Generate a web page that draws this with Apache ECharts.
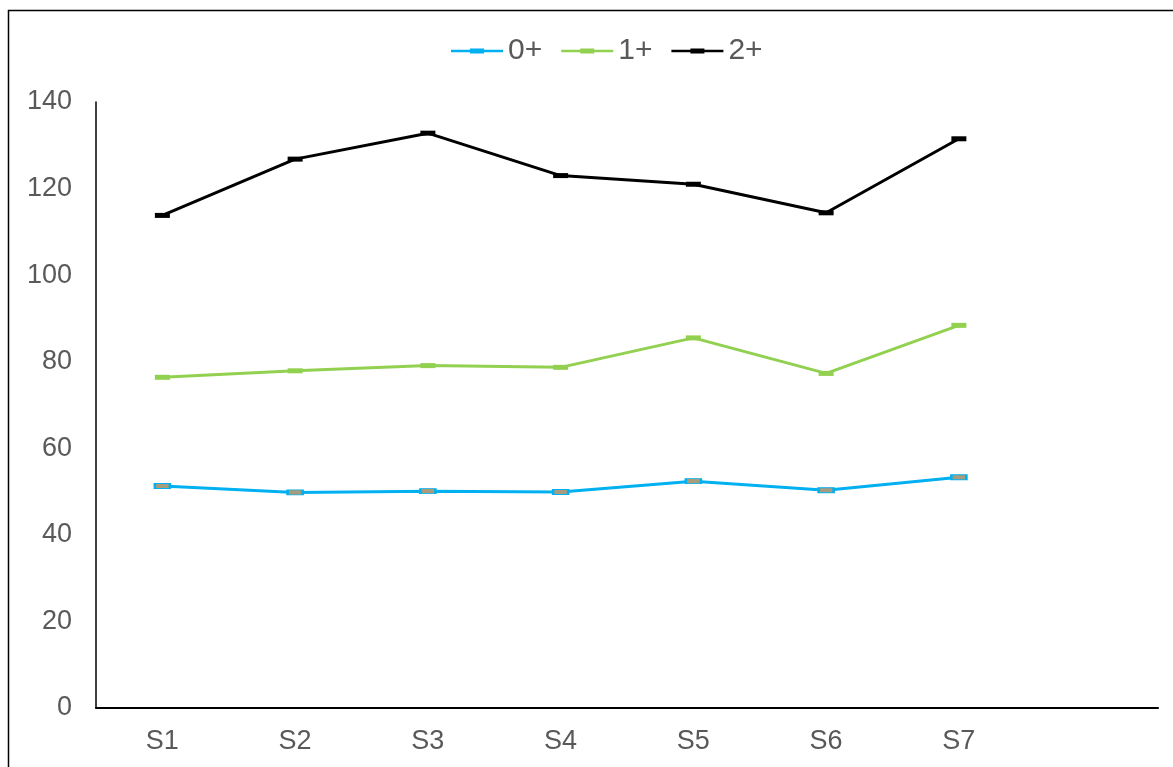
<!DOCTYPE html>
<html>
<head>
<meta charset="utf-8">
<script src="https://cdn.jsdelivr.net/npm/echarts@6/dist/echarts.min.js"></script>
<style>
  html, body { margin: 0; padding: 0; background: #fff; }
  #chart_main { width: 1173px; height: 767px; }
</style>
</head>
<body>
<div id="chart_main"></div>
<script type="text/javascript">
// categories (last slot is empty in the original)
var categories = ['S1', 'S2', 'S3', 'S4', 'S5', 'S6', 'S7', ''];
var series0 = [51.3, 49.8, 50.1, 49.9, 52.4, 50.3, 53.3];
var series1 = [76.4, 77.9, 79.1, 78.7, 85.5, 77.3, 88.4];
var series2 = [113.8, 126.8, 132.8, 123.0, 121.0, 114.4, 131.5];
var seriesNames = ['0+', '1+', '2+'];
var seriesColors = ['#00B0F0', '#92D050', '#000000'];
var yTicks = [0, 20, 40, 60, 80, 100, 120, 140];

var textColor = '#595959';
var myChart = echarts.init(document.getElementById('chart_main'));
// legend icon: thin line with a thicker dash in the middle
var legendIcon = 'path://M0,2.8 L52,2.8 L52,5.2 L0,5.2 Z M19,1.5 L33,1.5 L33,6.5 L19,6.5 Z';

function mkSeries(name, data, color, fill) {
    return {
        name: name,
        type: 'line',
        data: data,
        symbol: 'rect',
        symbolSize: [15, 5],
        lineStyle: { color: color, width: 3 },
        itemStyle: { color: fill || color, borderColor: color, borderWidth: fill ? 1.5 : 0 },
        emphasis: { disabled: true },
        animation: false
    };
}

var option = {
    animation: false,
    textStyle: { fontFamily: 'Liberation Sans, Arial, sans-serif' },
    graphic: [{
        type: 'rect',
        shape: { x: 8.5, y: 10.5, width: 1300, height: 900 },
        style: { fill: 'none', stroke: '#000', lineWidth: 1.5 },
        silent: true
    }],
    legend: {
        top: 31,
        left: 446,
        icon: legendIcon,
        itemWidth: 52,
        itemHeight: 8,
        itemGap: 19,
        data: seriesNames.map(function (n, i) {
            return { name: n, itemStyle: { color: seriesColors[i], borderWidth: 0 } };
        }),
        textStyle: { color: textColor, fontSize: 30 }
    },
    grid: { left: 96, right: 15, top: 102, bottom: 59, containLabel: false },
    xAxis: {
        type: 'category',
        data: categories,
        boundaryGap: true,
        axisLine: { lineStyle: { color: '#000', width: 2 } },
        axisTick: { show: false },
        axisLabel: { color: textColor, fontSize: 27, margin: 20 },
        splitLine: { show: false }
    },
    yAxis: {
        type: 'value',
        min: yTicks[0],
        max: yTicks[yTicks.length - 1],
        interval: 20,
        axisLine: { show: true, lineStyle: { color: '#000', width: 1.5 } },
        axisTick: { show: false },
        axisLabel: { color: textColor, fontSize: 27, margin: 24 },
        splitLine: { show: false }
    },
    series: [
        mkSeries(seriesNames[0], series0, seriesColors[0], '#A89C7E'),
        mkSeries(seriesNames[1], series1, seriesColors[1]),
        mkSeries(seriesNames[2], series2, seriesColors[2])
    ]
};
myChart.setOption(option);
</script>
</body>
</html>
